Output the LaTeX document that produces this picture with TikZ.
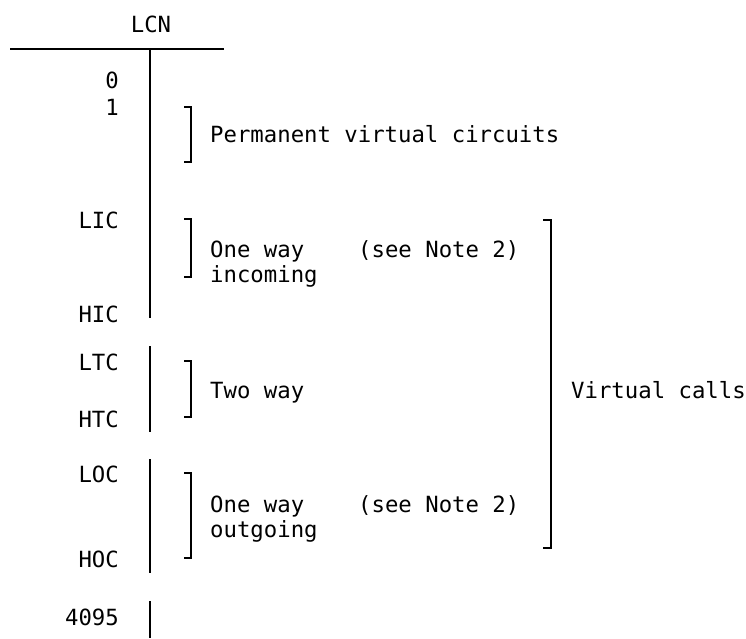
\documentclass[tikz,border=0pt]{standalone}
\usepackage{fontspec}
\setmonofont{DejaVu Sans Mono}
\usetikzlibrary{positioning}
\tikzset{
	lbl/.style={anchor=base east, inner sep=0pt, font=\ttfamily\fontsize{22.3}{26}\selectfont},
	txt/.style={anchor=base west, inner sep=0pt, font=\ttfamily\fontsize{22.3}{26}\selectfont},
	rule/.style={line width=1.2pt, black}
}

\begin{document}
\begin{tikzpicture}[x=1pt, y=-1pt]
				\useasboundingbox (0,0) rectangle (746,638);
				% Header
				\node[anchor=base, inner sep=0pt, font=\ttfamily\fontsize{22.3}{26}\selectfont] (lcn) at (151,32) {LCN};
				\draw[rule] (10,49) -- (224,49);
				% LCN axis
				\draw[rule] (150,49) -- (150,318);
				\draw[rule] (150,346) -- (150,432);
				\draw[rule] (150,459) -- (150,573);
				\draw[rule] (150,601) -- (150,638);
				% Channel limits
				\node[lbl] (zero) at (119,88) {0};
				\node[lbl] (one) at (119,115) {1};
				\node[lbl] (lic) at (119,228) {LIC};
				\node[lbl] (hic) at (119,322) {HIC};
				\node[lbl] (ltc) at (119,370) {LTC};
				\node[lbl] (htc) at (119,427) {HTC};
				\node[lbl] (loc) at (119,482) {LOC};
				\node[lbl] (hoc) at (119,567) {HOC};
				\node[lbl] (top) at (119,625) {4095};
				% Ranges
				\draw[rule] (184,107) -- (191,107) -- (191,162) -- (184,162);
				\node[txt] (pvc) at (210,142) {Permanent virtual circuits};
				\draw[rule] (184,219) -- (191,219) -- (191,277) -- (184,277);
				\node[txt] (incw) at (210,257) {One way};
				\node[txt] (inc) at (210,282) {incoming};
				\node[txt] (incn) at (358,257) {(see Note 2)};
				\draw[rule] (184,361) -- (191,361) -- (191,417) -- (184,417);
				\node[txt] (two) at (210,398) {Two way};
				\draw[rule] (184,473) -- (191,473) -- (191,558) -- (184,558);
				\node[txt] (outw) at (210,512) {One way};
				\node[txt] (out) at (210,537) {outgoing};
				\node[txt] (outn) at (358,512) {(see Note 2)};
				% Virtual calls
				\draw[rule] (543,220) -- (551,220) -- (551,548) -- (543,548);
				\node[txt] (vc) at (571,398) {Virtual calls};
			\end{tikzpicture}
\end{document}
